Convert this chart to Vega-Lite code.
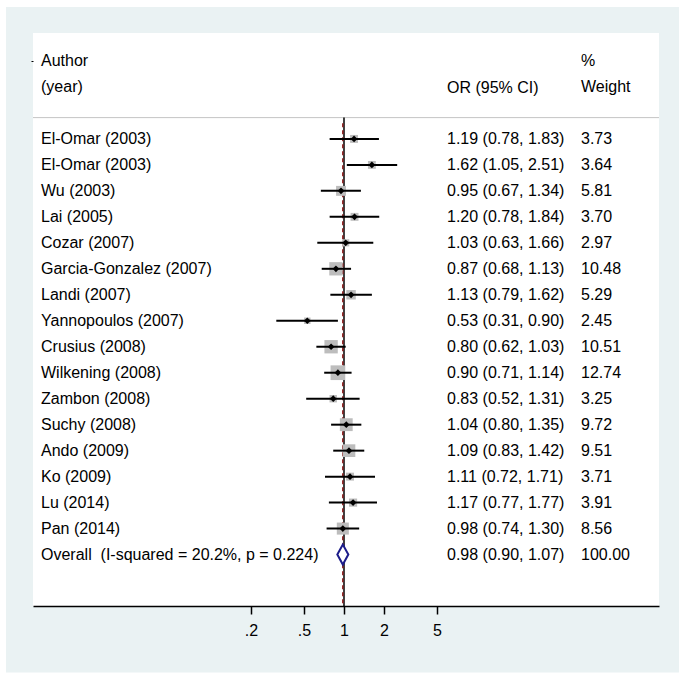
{
  "$schema": "https://vega.github.io/schema/vega-lite/v6.json",
  "width": 626,
  "height": 573,
  "autosize": {"type": "none"},
  "padding": {"left": 33, "top": 33, "right": 26, "bottom": 75},
  "background": "white",
  "config": {
    "view": {"stroke": null, "fill": null},
    "font": "Liberation Sans",
    "text": {"font": "Liberation Sans", "fontSize": 16, "color": "black", "baseline": "middle", "align": "left"}
  },
  "datasets": {
    "studies": [
      {"row": 1, "study": "El-Omar (2003)", "or": 1.19, "lo": 0.78, "hi": 1.83, "ci": "1.19 (0.78, 1.83)", "w": 3.73},
      {"row": 2, "study": "El-Omar (2003)", "or": 1.62, "lo": 1.05, "hi": 2.51, "ci": "1.62 (1.05, 2.51)", "w": 3.64},
      {"row": 3, "study": "Wu (2003)", "or": 0.95, "lo": 0.67, "hi": 1.34, "ci": "0.95 (0.67, 1.34)", "w": 5.81},
      {"row": 4, "study": "Lai (2005)", "or": 1.20, "lo": 0.78, "hi": 1.84, "ci": "1.20 (0.78, 1.84)", "w": 3.70},
      {"row": 5, "study": "Cozar (2007)", "or": 1.03, "lo": 0.63, "hi": 1.66, "ci": "1.03 (0.63, 1.66)", "w": 2.97},
      {"row": 6, "study": "Garcia-Gonzalez (2007)", "or": 0.87, "lo": 0.68, "hi": 1.13, "ci": "0.87 (0.68, 1.13)", "w": 10.48},
      {"row": 7, "study": "Landi (2007)", "or": 1.13, "lo": 0.79, "hi": 1.62, "ci": "1.13 (0.79, 1.62)", "w": 5.29},
      {"row": 8, "study": "Yannopoulos (2007)", "or": 0.53, "lo": 0.31, "hi": 0.90, "ci": "0.53 (0.31, 0.90)", "w": 2.45},
      {"row": 9, "study": "Crusius (2008)", "or": 0.80, "lo": 0.62, "hi": 1.03, "ci": "0.80 (0.62, 1.03)", "w": 10.51},
      {"row": 10, "study": "Wilkening (2008)", "or": 0.90, "lo": 0.71, "hi": 1.14, "ci": "0.90 (0.71, 1.14)", "w": 12.74},
      {"row": 11, "study": "Zambon (2008)", "or": 0.83, "lo": 0.52, "hi": 1.31, "ci": "0.83 (0.52, 1.31)", "w": 3.25},
      {"row": 12, "study": "Suchy (2008)", "or": 1.04, "lo": 0.80, "hi": 1.35, "ci": "1.04 (0.80, 1.35)", "w": 9.72},
      {"row": 13, "study": "Ando (2009)", "or": 1.09, "lo": 0.83, "hi": 1.42, "ci": "1.09 (0.83, 1.42)", "w": 9.51},
      {"row": 14, "study": "Ko (2009)", "or": 1.11, "lo": 0.72, "hi": 1.71, "ci": "1.11 (0.72, 1.71)", "w": 3.71},
      {"row": 15, "study": "Lu (2014)", "or": 1.17, "lo": 0.77, "hi": 1.77, "ci": "1.17 (0.77, 1.77)", "w": 3.91},
      {"row": 16, "study": "Pan (2014)", "or": 0.98, "lo": 0.74, "hi": 1.30, "ci": "0.98 (0.74, 1.30)", "w": 8.56},
      {"row": 17, "study": "Overall\u00a0 (I-squared = 20.2%, p = 0.224)", "or": 0.98, "lo": 0.90, "hi": 1.07, "ci": "0.98 (0.90, 1.07)", "w": 100.00}
    ]
  },
  "data": {"name": "studies"},
  "layer": [
    {
      "data": {"values": [{}]},
      "mark": {"type": "rect", "color": "#eaf2f3"},
      "encoding": {
        "x": {"datum": 0.002886, "type": "quantitative", "scale": {"type": "log", "domain": [0.004606, 232.7], "nice": false}, "title": null,
          "axis": {"zindex": 2, "values": [0.2, 0.5, 1, 2, 5], "labelExpr": "datum.value < 1 ? '.' + format(datum.value * 10, 'd') : format(datum.value, 'd')", "domain": true, "domainColor": "black", "domainWidth": 1.5, "ticks": true, "tickColor": "black", "tickWidth": 1.5, "tickSize": 8, "grid": false, "labelFont": "Liberation Sans", "labelFontSize": 16, "labelColor": "black", "labelPadding": 8, "labelFlush": false, "labelOverlap": false}},
        "x2": {"datum": 328.9},
        "y": {"datum": -4.08, "type": "quantitative", "scale": {"domain": [-3.077, 18.98], "reverse": true, "nice": false, "zero": false}, "title": null,
          "axis": {"zindex": 2, "values": [-1.98], "labels": false, "domain": false, "ticks": true, "tickSize": 2, "tickColor": "black", "tickWidth": 1, "grid": false}},
        "y2": {"datum": 21.54}
      }
    },
    {
      "data": {"values": [{}]},
      "mark": {"type": "rect", "color": "white"},
      "encoding": {
        "x": {"datum": 0.004606, "type": "quantitative", "scale": {"type": "log", "domain": [0.004606, 232.7], "nice": false}, "title": null,
          "axis": {"zindex": 2, "values": [0.2, 0.5, 1, 2, 5], "labelExpr": "datum.value < 1 ? '.' + format(datum.value * 10, 'd') : format(datum.value, 'd')", "domain": true, "domainColor": "black", "domainWidth": 1.5, "ticks": true, "tickColor": "black", "tickWidth": 1.5, "tickSize": 8, "grid": false, "labelFont": "Liberation Sans", "labelFontSize": 16, "labelColor": "black", "labelPadding": 8, "labelFlush": false, "labelOverlap": false}},
        "x2": {"datum": 232.7},
        "y": {"datum": -3.077, "type": "quantitative", "scale": {"domain": [-3.077, 18.98], "reverse": true, "nice": false, "zero": false}, "title": null,
          "axis": {"zindex": 2, "values": [-1.98], "labels": false, "domain": false, "ticks": true, "tickSize": 2, "tickColor": "black", "tickWidth": 1, "grid": false}},
        "y2": {"datum": 18.98}
      }
    },
    {
      "data": {"values": [{}]},
      "mark": {"type": "rule", "color": "#c4c4c4", "strokeWidth": 1},
      "encoding": {
        "x": {"datum": 0.004606, "type": "quantitative", "scale": {"type": "log", "domain": [0.004606, 232.7], "nice": false}, "title": null,
          "axis": {"zindex": 2, "values": [0.2, 0.5, 1, 2, 5], "labelExpr": "datum.value < 1 ? '.' + format(datum.value * 10, 'd') : format(datum.value, 'd')", "domain": true, "domainColor": "black", "domainWidth": 1.5, "ticks": true, "tickColor": "black", "tickWidth": 1.5, "tickSize": 8, "grid": false, "labelFont": "Liberation Sans", "labelFontSize": 16, "labelColor": "black", "labelPadding": 8, "labelFlush": false, "labelOverlap": false}},
        "x2": {"datum": 232.7},
        "y": {"datum": 0.18, "type": "quantitative", "scale": {"domain": [-3.077, 18.98], "reverse": true, "nice": false, "zero": false}, "title": null,
          "axis": {"zindex": 2, "values": [-1.98], "labels": false, "domain": false, "ticks": true, "tickSize": 2, "tickColor": "black", "tickWidth": 1, "grid": false}}
      }
    },
    {
      "data": {"values": [{}]},
      "mark": {"type": "rule", "color": "black", "strokeWidth": 1.5},
      "encoding": {
        "x": {"datum": 1, "type": "quantitative", "scale": {"type": "log", "domain": [0.004606, 232.7], "nice": false}, "title": null,
          "axis": {"zindex": 2, "values": [0.2, 0.5, 1, 2, 5], "labelExpr": "datum.value < 1 ? '.' + format(datum.value * 10, 'd') : format(datum.value, 'd')", "domain": true, "domainColor": "black", "domainWidth": 1.5, "ticks": true, "tickColor": "black", "tickWidth": 1.5, "tickSize": 8, "grid": false, "labelFont": "Liberation Sans", "labelFontSize": 16, "labelColor": "black", "labelPadding": 8, "labelFlush": false, "labelOverlap": false}},
        "y": {"datum": 0.18, "type": "quantitative", "scale": {"domain": [-3.077, 18.98], "reverse": true, "nice": false, "zero": false}, "title": null,
          "axis": {"zindex": 2, "values": [-1.98], "labels": false, "domain": false, "ticks": true, "tickSize": 2, "tickColor": "black", "tickWidth": 1, "grid": false}},
        "y2": {"datum": 18.98}
      }
    },
    {
      "transform": [{"filter": "datum.row == 17"}],
      "mark": {"type": "rule", "color": "#8b1c1c", "strokeWidth": 1.5, "strokeDash": [4, 3]},
      "encoding": {
        "x": {"field": "or", "type": "quantitative", "scale": {"type": "log", "domain": [0.004606, 232.7], "nice": false}, "title": null,
          "axis": {"zindex": 2, "values": [0.2, 0.5, 1, 2, 5], "labelExpr": "datum.value < 1 ? '.' + format(datum.value * 10, 'd') : format(datum.value, 'd')", "domain": true, "domainColor": "black", "domainWidth": 1.5, "ticks": true, "tickColor": "black", "tickWidth": 1.5, "tickSize": 8, "grid": false, "labelFont": "Liberation Sans", "labelFontSize": 16, "labelColor": "black", "labelPadding": 8, "labelFlush": false, "labelOverlap": false}},
        "y": {"datum": 0.4, "type": "quantitative", "scale": {"domain": [-3.077, 18.98], "reverse": true, "nice": false, "zero": false}, "title": null,
          "axis": {"zindex": 2, "values": [-1.98], "labels": false, "domain": false, "ticks": true, "tickSize": 2, "tickColor": "black", "tickWidth": 1, "grid": false}},
        "y2": {"datum": 18.98}
      }
    },
    {
      "transform": [{"filter": "datum.row <= 16"}],
      "mark": {"type": "point", "shape": "square", "filled": true, "color": "#bdbdbd", "opacity": 1},
      "encoding": {
        "x": {"field": "or", "type": "quantitative", "scale": {"type": "log", "domain": [0.004606, 232.7], "nice": false}, "title": null,
          "axis": {"zindex": 2, "values": [0.2, 0.5, 1, 2, 5], "labelExpr": "datum.value < 1 ? '.' + format(datum.value * 10, 'd') : format(datum.value, 'd')", "domain": true, "domainColor": "black", "domainWidth": 1.5, "ticks": true, "tickColor": "black", "tickWidth": 1.5, "tickSize": 8, "grid": false, "labelFont": "Liberation Sans", "labelFontSize": 16, "labelColor": "black", "labelPadding": 8, "labelFlush": false, "labelOverlap": false}},
        "y": {"field": "row", "type": "quantitative", "scale": {"domain": [-3.077, 18.98], "reverse": true, "nice": false, "zero": false}, "title": null,
          "axis": {"zindex": 2, "values": [-1.98], "labels": false, "domain": false, "ticks": true, "tickSize": 2, "tickColor": "black", "tickWidth": 1, "grid": false}},
        "size": {"field": "w", "type": "quantitative", "scale": {"domain": [0, 12.74], "range": [0, 216]}, "legend": null}
      }
    },
    {
      "transform": [{"filter": "datum.row <= 16"}],
      "mark": {"type": "rule", "color": "black", "strokeWidth": 2},
      "encoding": {
        "x": {"field": "lo", "type": "quantitative", "scale": {"type": "log", "domain": [0.004606, 232.7], "nice": false}, "title": null,
          "axis": {"zindex": 2, "values": [0.2, 0.5, 1, 2, 5], "labelExpr": "datum.value < 1 ? '.' + format(datum.value * 10, 'd') : format(datum.value, 'd')", "domain": true, "domainColor": "black", "domainWidth": 1.5, "ticks": true, "tickColor": "black", "tickWidth": 1.5, "tickSize": 8, "grid": false, "labelFont": "Liberation Sans", "labelFontSize": 16, "labelColor": "black", "labelPadding": 8, "labelFlush": false, "labelOverlap": false}},
        "x2": {"field": "hi"},
        "y": {"field": "row", "type": "quantitative", "scale": {"domain": [-3.077, 18.98], "reverse": true, "nice": false, "zero": false}, "title": null,
          "axis": {"zindex": 2, "values": [-1.98], "labels": false, "domain": false, "ticks": true, "tickSize": 2, "tickColor": "black", "tickWidth": 1, "grid": false}}
      }
    },
    {
      "transform": [{"filter": "datum.row <= 16"}],
      "mark": {"type": "point", "shape": "diamond", "filled": true, "color": "black", "opacity": 1, "size": 45},
      "encoding": {
        "x": {"field": "or", "type": "quantitative", "scale": {"type": "log", "domain": [0.004606, 232.7], "nice": false}, "title": null,
          "axis": {"zindex": 2, "values": [0.2, 0.5, 1, 2, 5], "labelExpr": "datum.value < 1 ? '.' + format(datum.value * 10, 'd') : format(datum.value, 'd')", "domain": true, "domainColor": "black", "domainWidth": 1.5, "ticks": true, "tickColor": "black", "tickWidth": 1.5, "tickSize": 8, "grid": false, "labelFont": "Liberation Sans", "labelFontSize": 16, "labelColor": "black", "labelPadding": 8, "labelFlush": false, "labelOverlap": false}},
        "y": {"field": "row", "type": "quantitative", "scale": {"domain": [-3.077, 18.98], "reverse": true, "nice": false, "zero": false}, "title": null,
          "axis": {"zindex": 2, "values": [-1.98], "labels": false, "domain": false, "ticks": true, "tickSize": 2, "tickColor": "black", "tickWidth": 1, "grid": false}}
      }
    },
    {
      "transform": [{"filter": "datum.row == 17"}],
      "mark": {"type": "point", "shape": "M-0.55,0L0,-1L0.55,0L0,1Z", "filled": true, "fill": "white", "stroke": "#1c1c8a", "strokeWidth": 2, "opacity": 1, "size": 400},
      "encoding": {
        "x": {"field": "or", "type": "quantitative", "scale": {"type": "log", "domain": [0.004606, 232.7], "nice": false}, "title": null,
          "axis": {"zindex": 2, "values": [0.2, 0.5, 1, 2, 5], "labelExpr": "datum.value < 1 ? '.' + format(datum.value * 10, 'd') : format(datum.value, 'd')", "domain": true, "domainColor": "black", "domainWidth": 1.5, "ticks": true, "tickColor": "black", "tickWidth": 1.5, "tickSize": 8, "grid": false, "labelFont": "Liberation Sans", "labelFontSize": 16, "labelColor": "black", "labelPadding": 8, "labelFlush": false, "labelOverlap": false}},
        "y": {"field": "row", "type": "quantitative", "scale": {"domain": [-3.077, 18.98], "reverse": true, "nice": false, "zero": false}, "title": null,
          "axis": {"zindex": 2, "values": [-1.98], "labels": false, "domain": false, "ticks": true, "tickSize": 2, "tickColor": "black", "tickWidth": 1, "grid": false}}
      }
    },
    {
      "mark": {"type": "text"},
      "encoding": {
        "x": {"datum": 0.00529, "type": "quantitative", "scale": {"type": "log", "domain": [0.004606, 232.7], "nice": false}, "title": null,
          "axis": {"zindex": 2, "values": [0.2, 0.5, 1, 2, 5], "labelExpr": "datum.value < 1 ? '.' + format(datum.value * 10, 'd') : format(datum.value, 'd')", "domain": true, "domainColor": "black", "domainWidth": 1.5, "ticks": true, "tickColor": "black", "tickWidth": 1.5, "tickSize": 8, "grid": false, "labelFont": "Liberation Sans", "labelFontSize": 16, "labelColor": "black", "labelPadding": 8, "labelFlush": false, "labelOverlap": false}},
        "y": {"field": "row", "type": "quantitative", "scale": {"domain": [-3.077, 18.98], "reverse": true, "nice": false, "zero": false}, "title": null,
          "axis": {"zindex": 2, "values": [-1.98], "labels": false, "domain": false, "ticks": true, "tickSize": 2, "tickColor": "black", "tickWidth": 1, "grid": false}},
        "text": {"field": "study"}
      }
    },
    {
      "mark": {"type": "text"},
      "encoding": {
        "x": {"datum": 5.942, "type": "quantitative", "scale": {"type": "log", "domain": [0.004606, 232.7], "nice": false}, "title": null,
          "axis": {"zindex": 2, "values": [0.2, 0.5, 1, 2, 5], "labelExpr": "datum.value < 1 ? '.' + format(datum.value * 10, 'd') : format(datum.value, 'd')", "domain": true, "domainColor": "black", "domainWidth": 1.5, "ticks": true, "tickColor": "black", "tickWidth": 1.5, "tickSize": 8, "grid": false, "labelFont": "Liberation Sans", "labelFontSize": 16, "labelColor": "black", "labelPadding": 8, "labelFlush": false, "labelOverlap": false}},
        "y": {"field": "row", "type": "quantitative", "scale": {"domain": [-3.077, 18.98], "reverse": true, "nice": false, "zero": false}, "title": null,
          "axis": {"zindex": 2, "values": [-1.98], "labels": false, "domain": false, "ticks": true, "tickSize": 2, "tickColor": "black", "tickWidth": 1, "grid": false}},
        "text": {"field": "ci"}
      }
    },
    {
      "mark": {"type": "text"},
      "encoding": {
        "x": {"datum": 60.35, "type": "quantitative", "scale": {"type": "log", "domain": [0.004606, 232.7], "nice": false}, "title": null,
          "axis": {"zindex": 2, "values": [0.2, 0.5, 1, 2, 5], "labelExpr": "datum.value < 1 ? '.' + format(datum.value * 10, 'd') : format(datum.value, 'd')", "domain": true, "domainColor": "black", "domainWidth": 1.5, "ticks": true, "tickColor": "black", "tickWidth": 1.5, "tickSize": 8, "grid": false, "labelFont": "Liberation Sans", "labelFontSize": 16, "labelColor": "black", "labelPadding": 8, "labelFlush": false, "labelOverlap": false}},
        "y": {"field": "row", "type": "quantitative", "scale": {"domain": [-3.077, 18.98], "reverse": true, "nice": false, "zero": false}, "title": null,
          "axis": {"zindex": 2, "values": [-1.98], "labels": false, "domain": false, "ticks": true, "tickSize": 2, "tickColor": "black", "tickWidth": 1, "grid": false}},
        "text": {"field": "w", "format": ".2f"}
      }
    },
    {
      "data": {"values": [{}]},
      "mark": {"type": "text", "text": ["Author", "(year)"], "lineHeight": 26},
      "encoding": {
        "x": {"datum": 0.00529, "type": "quantitative", "scale": {"type": "log", "domain": [0.004606, 232.7], "nice": false}, "title": null,
          "axis": {"zindex": 2, "values": [0.2, 0.5, 1, 2, 5], "labelExpr": "datum.value < 1 ? '.' + format(datum.value * 10, 'd') : format(datum.value, 'd')", "domain": true, "domainColor": "black", "domainWidth": 1.5, "ticks": true, "tickColor": "black", "tickWidth": 1.5, "tickSize": 8, "grid": false, "labelFont": "Liberation Sans", "labelFontSize": 16, "labelColor": "black", "labelPadding": 8, "labelFlush": false, "labelOverlap": false}},
        "y": {"datum": -1.98, "type": "quantitative", "scale": {"domain": [-3.077, 18.98], "reverse": true, "nice": false, "zero": false}, "title": null,
          "axis": {"zindex": 2, "values": [-1.98], "labels": false, "domain": false, "ticks": true, "tickSize": 2, "tickColor": "black", "tickWidth": 1, "grid": false}}
      }
    },
    {
      "data": {"values": [{}]},
      "mark": {"type": "text", "text": "OR (95% CI)"},
      "encoding": {
        "x": {"datum": 5.942, "type": "quantitative", "scale": {"type": "log", "domain": [0.004606, 232.7], "nice": false}, "title": null,
          "axis": {"zindex": 2, "values": [0.2, 0.5, 1, 2, 5], "labelExpr": "datum.value < 1 ? '.' + format(datum.value * 10, 'd') : format(datum.value, 'd')", "domain": true, "domainColor": "black", "domainWidth": 1.5, "ticks": true, "tickColor": "black", "tickWidth": 1.5, "tickSize": 8, "grid": false, "labelFont": "Liberation Sans", "labelFontSize": 16, "labelColor": "black", "labelPadding": 8, "labelFlush": false, "labelOverlap": false}},
        "y": {"datum": -0.96, "type": "quantitative", "scale": {"domain": [-3.077, 18.98], "reverse": true, "nice": false, "zero": false}, "title": null,
          "axis": {"zindex": 2, "values": [-1.98], "labels": false, "domain": false, "ticks": true, "tickSize": 2, "tickColor": "black", "tickWidth": 1, "grid": false}}
      }
    },
    {
      "data": {"values": [{}]},
      "mark": {"type": "text", "text": ["%", "Weight"], "lineHeight": 26},
      "encoding": {
        "x": {"datum": 60.35, "type": "quantitative", "scale": {"type": "log", "domain": [0.004606, 232.7], "nice": false}, "title": null,
          "axis": {"zindex": 2, "values": [0.2, 0.5, 1, 2, 5], "labelExpr": "datum.value < 1 ? '.' + format(datum.value * 10, 'd') : format(datum.value, 'd')", "domain": true, "domainColor": "black", "domainWidth": 1.5, "ticks": true, "tickColor": "black", "tickWidth": 1.5, "tickSize": 8, "grid": false, "labelFont": "Liberation Sans", "labelFontSize": 16, "labelColor": "black", "labelPadding": 8, "labelFlush": false, "labelOverlap": false}},
        "y": {"datum": -1.98, "type": "quantitative", "scale": {"domain": [-3.077, 18.98], "reverse": true, "nice": false, "zero": false}, "title": null,
          "axis": {"zindex": 2, "values": [-1.98], "labels": false, "domain": false, "ticks": true, "tickSize": 2, "tickColor": "black", "tickWidth": 1, "grid": false}}
      }
    }
  ]
}
